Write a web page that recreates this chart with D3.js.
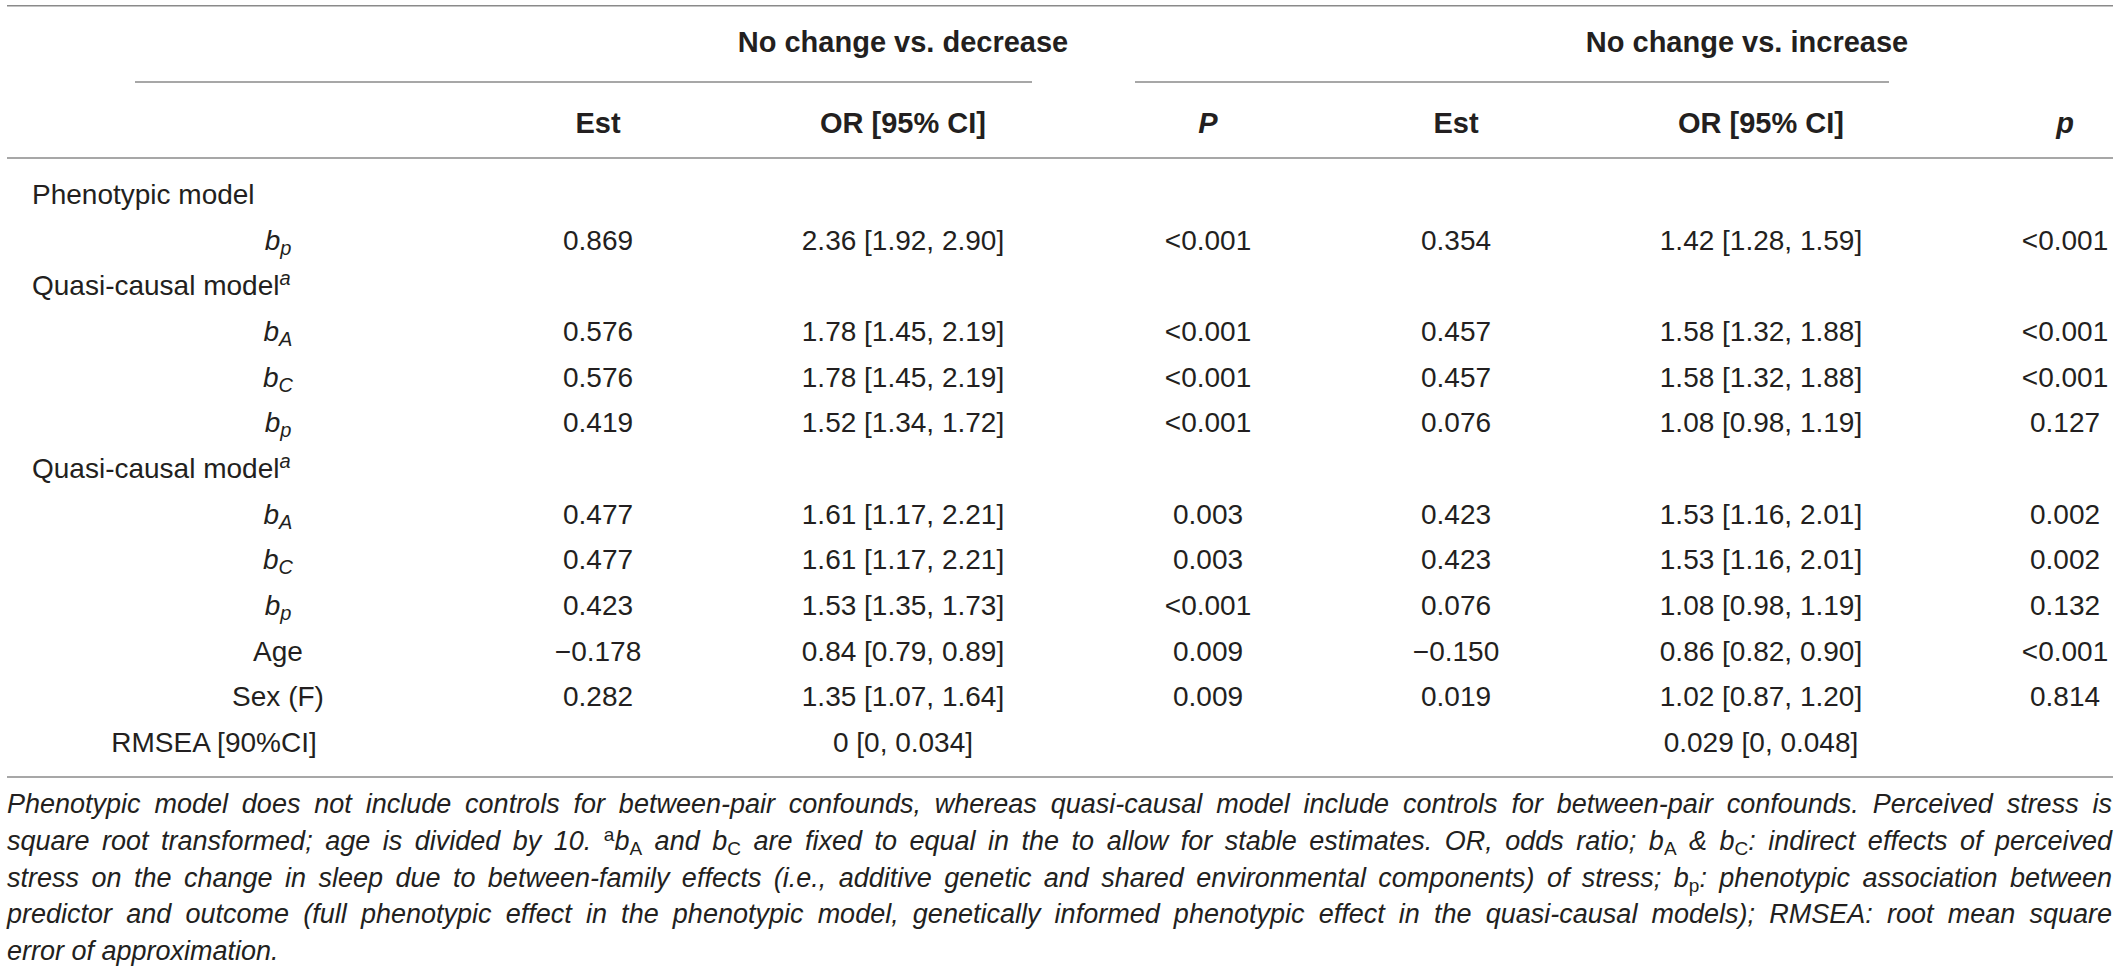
<!DOCTYPE html>
<html>
<head>
<meta charset="utf-8">
<script src="https://cdn.jsdelivr.net/npm/d3@7"></script>
<style>
  html, body { margin: 0; padding: 0; background: #ffffff; }
  svg { display: block; }
  text { font-family: "Liberation Sans", Arial, Helvetica, sans-serif; fill: #231f20; }
</style>
</head>
<body>
<svg id="chart" width="2120" height="975"></svg>
<script>
// ---------------- data ----------------
const groupHeaders = ["No change vs. decrease", "No change vs. increase"];
const columnKeys = ["estDec", "orDec", "pDec", "estInc", "orInc", "pInc"];
const columnHeaders = ["Est", "OR [95% CI]", "P", "Est", "OR [95% CI]", "p"];
const columnHeaderItalic = [false, false, true, false, false, true];

const rowLabels = ["Phenotypic model", "b_{p}", "Quasi-causal model^{a}", "b_{A}", "b_{C}", "b_{p}",
  "Quasi-causal model^{a}", "b_{A}", "b_{C}", "b_{p}", "Age", "Sex (F)", "RMSEA [90%CI]"];
const rowKinds = ["group", "coef", "group", "coef", "coef", "coef",
  "group", "coef", "coef", "coef", "covar", "covar", "fit"];

const estDec = ["", "0.869", "", "0.576", "0.576", "0.419", "", "0.477", "0.477", "0.423", "\u22120.178", "0.282", ""];
const orDec = ["", "2.36 [1.92, 2.90]", "", "1.78 [1.45, 2.19]", "1.78 [1.45, 2.19]", "1.52 [1.34, 1.72]", "",
  "1.61 [1.17, 2.21]", "1.61 [1.17, 2.21]", "1.53 [1.35, 1.73]", "0.84 [0.79, 0.89]", "1.35 [1.07, 1.64]", "0 [0, 0.034]"];
const pDec = ["", "<0.001", "", "<0.001", "<0.001", "<0.001", "", "0.003", "0.003", "<0.001", "0.009", "0.009", ""];
const estInc = ["", "0.354", "", "0.457", "0.457", "0.076", "", "0.423", "0.423", "0.076", "\u22120.150", "0.019", ""];
const orInc = ["", "1.42 [1.28, 1.59]", "", "1.58 [1.32, 1.88]", "1.58 [1.32, 1.88]", "1.08 [0.98, 1.19]", "",
  "1.53 [1.16, 2.01]", "1.53 [1.16, 2.01]", "1.08 [0.98, 1.19]", "0.86 [0.82, 0.90]", "1.02 [0.87, 1.20]", "0.029 [0, 0.048]"];
const pInc = ["", "<0.001", "", "<0.001", "<0.001", "0.127", "", "0.002", "0.002", "0.132", "<0.001", "0.814", ""];

const footnoteLines = [
  "Phenotypic model does not include controls for between-pair confounds, whereas quasi-causal model include controls for between-pair confounds. Perceived stress is",
  "square root transformed; age is divided by 10. ^{a}b_{A} and b_{C} are fixed to equal in the to allow for stable estimates. OR, odds ratio; b_{A} & b_{C}: indirect effects of perceived",
  "stress on the change in sleep due to between-family effects (i.e., additive genetic and shared environmental components) of stress; b_{p}: phenotypic association between",
  "predictor and outcome (full phenotypic effect in the phenotypic model, genetically informed phenotypic effect in the quasi-causal models); RMSEA: root mean square",
  "error of approximation."
];

// ---------------- layout ----------------
const columns = { estDec, orDec, pDec, estInc, orInc, pInc };
const svg = d3.select("#chart");
const ruleColor = "#8a8a8a";
const bodySize = 28, headSize = 29, footSize = 27;

const x = d3.scaleOrdinal().domain(columnKeys).range([598, 903, 1208, 1456, 1761, 2065]);
const y = d3.scalePoint().domain(d3.range(rowLabels.length)).range([204, 752]);
const yFoot = d3.scalePoint().domain(d3.range(footnoteLines.length)).range([813, 960]);
const headY = [52, 133];
const spans = [
  { label: groupHeaders[0], x1: 135, x2: 1032, cx: 903 },
  { label: groupHeaders[1], x1: 1135, x2: 1889, cx: 1747 }
];

function parseRich(s) {
  const parts = s.split(/(_\{[^}]*\}|\^\{[^}]*\})/).filter(p => p.length);
  return parts.map(p => {
    if (p.startsWith("_{")) return { type: "sub", text: p.slice(2, -1) };
    if (p.startsWith("^{")) return { type: "sup", text: p.slice(2, -1) };
    return { type: "plain", text: p };
  });
}
function renderRich(sel, s, o) {
  let shift = 0;
  parseRich(s).forEach(t => {
    const target = t.type === "sub" ? o.subDy : t.type === "sup" ? o.supDy : 0;
    const ts = sel.append("tspan").text(t.text).attr("dy", target - shift);
    shift = target;
    if (t.type === "plain") {
      ts.attr("font-style", o.italic ? "italic" : "normal");
    } else {
      ts.attr("font-size", o.scriptSize).attr("font-style", o.scriptItalic ? "italic" : "normal");
    }
  });
}

// rules
const rules = [
  { y: 5.7, x1: 7, x2: 2113 },
  { y: 82, x1: spans[0].x1, x2: spans[0].x2 },
  { y: 82, x1: spans[1].x1, x2: spans[1].x2 },
  { y: 158, x1: 7, x2: 2113 },
  { y: 777, x1: 7, x2: 2113 }
];
svg.append("g").selectAll("line").data(rules).join("line")
  .attr("x1", d => d.x1).attr("x2", d => d.x2)
  .attr("y1", d => d.y).attr("y2", d => d.y)
  .attr("stroke", ruleColor).attr("stroke-width", 1.6);

// spanning headers
svg.append("g").selectAll("text").data(spans).join("text")
  .attr("x", d => d.cx).attr("y", headY[0])
  .attr("text-anchor", "middle").attr("font-weight", "bold").attr("font-size", headSize)
  .text(d => d.label);

// column headers
svg.append("g").selectAll("text").data(columnKeys).join("text")
  .attr("x", d => x(d)).attr("y", headY[1])
  .attr("text-anchor", "middle").attr("font-weight", "bold").attr("font-size", headSize)
  .attr("font-style", (d, i) => columnHeaderItalic[i] ? "italic" : "normal")
  .text((d, i) => columnHeaders[i]);

// row labels
const labelX = { group: 32, coef: 278, covar: 278, fit: 214 };
svg.append("g").selectAll("text").data(rowLabels).join("text")
  .attr("x", (d, i) => labelX[rowKinds[i]])
  .attr("y", (d, i) => y(i))
  .attr("text-anchor", (d, i) => rowKinds[i] === "group" ? "start" : "middle")
  .attr("font-size", bodySize)
  .each(function (d, i) {
    renderRich(d3.select(this), d, {
      italic: rowKinds[i] === "coef", scriptItalic: true,
      scriptSize: 20, subDy: 5, supDy: -10
    });
  });

// cells
const cells = [];
columnKeys.forEach(k => columns[k].forEach((v, i) => { if (v) cells.push({ k, i, v }); }));
svg.append("g").selectAll("text").data(cells).join("text")
  .attr("x", d => x(d.k)).attr("y", d => y(d.i))
  .attr("text-anchor", "middle").attr("font-size", bodySize)
  .text(d => d.v);

// footnote (justified)
const footLeft = 7, footRight = 2112;
const foot = svg.append("g").selectAll("text").data(footnoteLines).join("text")
  .attr("x", footLeft).attr("y", (d, i) => yFoot(i))
  .attr("font-size", footSize)
  .each(function (d) {
    renderRich(d3.select(this), d, {
      italic: true, scriptItalic: false, scriptSize: 19, subDy: 5, supDy: -9
    });
  });
foot.each(function (d, i) {
  if (i === footnoteLines.length - 1) return;
  const plain = parseRich(d).map(t => t.text).join("");
  const nSpaces = (plain.match(/ /g) || []).length;
  const w0 = this.getComputedTextLength();
  const target = footRight - footLeft;
  const ws = (target - w0) / nSpaces;
  d3.select(this).style("word-spacing", ws + "px");
  const w1 = this.getComputedTextLength();
  if (Math.abs(w1 - target) > 4) {
    d3.select(this).style("word-spacing", null)
      .attr("textLength", target).attr("lengthAdjust", "spacing");
  }
});
</script>
</body>
</html>
